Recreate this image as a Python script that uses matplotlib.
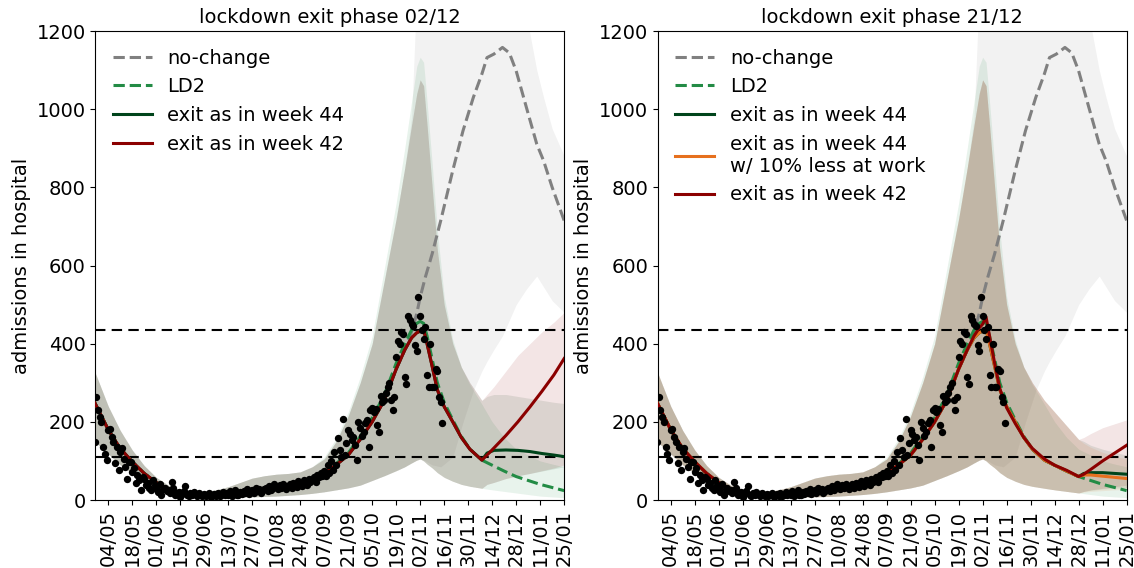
import matplotlib
matplotlib.use("Agg")
import matplotlib.pyplot as plt
import matplotlib.dates as mdates
import pandas as pd

# ---------------- observed daily admissions (from 2020-04-26) ----------------
obs_start = "2020-04-26"
obs_values = [
    149, 264, 230, 213, 200,
    136, 119, 102, 179, 181, 162, 149, 94, 136, 77,
    123, 132, 106, 85, 55, 98, 98, 72, 81, 43,
    64, 51, 25, 60, 55, 38, 43, 30, 25, 51, 38,
    32, 21, 40, 13, 28, 30, 22, 25, 18, 47,
    30, 12, 18, 20, 8, 15, 22, 35, 14, 10,
    18, 12, 20, 15, 9, 17, 14, 11, 16, 10,
    13, 18, 8, 12, 15, 11, 19, 9, 14, 20,
    12, 17, 13, 22, 10, 18, 25, 14, 12, 20,
    15, 24, 18, 28, 16, 22, 25, 19, 30, 22, 28,
    18, 24, 28, 32, 22, 35, 26, 30, 40, 33,
    27, 38, 30, 42, 35, 28, 36, 40, 30, 44,
    38, 33, 48, 42, 36, 50, 45, 38, 55, 47, 52,
    60, 45, 65, 58, 70, 62,
    75, 62, 90, 70, 100, 77, 123, 90, 158, 128,
    110, 208, 115, 145, 179, 170, 153, 160, 140, 102,
    200, 185, 165, 175,
    196, 205, 136, 230, 235, 226, 232, 191, 174, 265,
    250, 255, 275, 289, 300, 255, 230, 264, 366, 408,
    400, 430, 425, 315, 298, 472, 460, 451, 445, 396, 380,
    519, 472, 435, 413, 443, 319, 289, 400, 290, 288, 336, 330, 264, 250, 196,
]

# ---------------- common model fit (lockdown trajectory) ----------------
common_dates = [
    "2020-04-26", "2020-05-04", "2020-05-11", "2020-05-18", "2020-05-25",
    "2020-06-01", "2020-06-08", "2020-06-15", "2020-06-22", "2020-06-29",
    "2020-07-06", "2020-07-13", "2020-07-20", "2020-07-27", "2020-08-03",
    "2020-08-10", "2020-08-17", "2020-08-24", "2020-08-31", "2020-09-07",
    "2020-09-14", "2020-09-21", "2020-09-28", "2020-10-05", "2020-10-12",
    "2020-10-19", "2020-10-24", "2020-10-28", "2020-10-31", "2020-11-02",
    "2020-11-04", "2020-11-06", "2020-11-09", "2020-11-12", "2020-11-16",
    "2020-11-21", "2020-11-26", "2020-12-01", "2020-12-08", "2020-12-14",
    "2020-12-21", "2020-12-28",
]
fit_a = [250, 180, 132, 98, 68, 45, 28, 18, 14, 13, 14, 15, 18, 21, 25, 30, 34, 38,
         50, 68, 90, 115, 155, 200, 255, 335, 384, 415, 428, 432, 436, 400, 342, 282,
         239, 200, 160, 130, 102, 89, 74, 60]
fit_b = [250, 180, 132, 98, 68, 45, 28, 18, 14, 13, 14, 15, 18, 21, 25, 30, 34, 38,
         50, 68, 90, 115, 155, 200, 255, 335, 384, 420, 440, 450, 468, 420, 350, 285,
         236, 196, 160, 132, 105, 89, 76, 60]
ld2_mid = [250, 180, 132, 98, 68, 45, 28, 18, 14, 13, 14, 15, 18, 21, 25, 30, 34, 38,
           50, 70, 93, 120, 162, 210, 268, 350, 400, 435, 452, 457, 452, 420, 360, 300,
           250, 205, 163, 130, 102, 89, 74, 60]
common_hi = [330, 240, 178, 128, 88, 58, 38, 26, 22, 22, 26, 34, 45, 56, 62, 66, 68, 72,
             85, 105, 150, 215, 300, 400, 560, 720, 850, 960, 1040, 1075, 1060, 960, 800,
             640, 500, 400, 340, 300, 255, 225, 190, 155]
common_lo = [150, 118, 90, 68, 48, 30, 18, 11, 8, 7, 7, 7, 8, 8, 9, 10, 12, 14,
             17, 21, 26, 31, 38, 50, 62, 75, 85, 95, 102, 105, 100, 92, 82, 70, 58,
             48, 40, 35, 30, 26, 22, 18]
ld2_hi = [330, 240, 178, 128, 88, 58, 38, 26, 22, 22, 26, 34, 45, 56, 62, 66, 68, 72,
          85, 110, 158, 225, 315, 420, 590, 760, 900, 1020, 1110, 1133, 1120, 1020, 860,
          690, 520, 410, 340, 295, 245, 200, 160, 130]

ld2_tail_dates = ["2021-01-04", "2021-01-11", "2021-01-18", "2021-01-25"]
ld2_tail = [50, 40, 32, 24]
ld2_tail_hi = [115, 100, 92, 85]
ld2_tail_lo = [14, 10, 8, 6]

# ---------------- no-change scenario ----------------
nc_dates = ["2020-10-24", "2020-10-28", "2020-10-31", "2020-11-02", "2020-11-05",
            "2020-11-09", "2020-11-14", "2020-11-21", "2020-11-27", "2020-12-03",
            "2020-12-08", "2020-12-11", "2020-12-15", "2020-12-20", "2020-12-24",
            "2020-12-28", "2021-01-03", "2021-01-09", "2021-01-13", "2021-01-18",
            "2021-01-25"]
nc_mid = [384, 430, 477, 519, 570, 630, 715, 843, 945, 1030, 1090, 1132, 1141, 1158,
          1144, 1098, 1004, 911, 868, 800, 715]
nc_hi = [850, 980, 1300, 1400, 1400, 1400, 1400, 1400, 1400, 1400, 1400, 1400, 1400,
         1400, 1400, 1400, 1240, 1100, 1030, 950, 880]
nc_lo = [85, 95, 102, 105, 100, 90, 85, 110, 200, 280, 330, 355, 385, 420, 460, 500,
         540, 573, 545, 510, 480]

# ---------------- exit 02/12 (left panel) ----------------
exitA_dates = ["2020-12-08", "2020-12-11", "2020-12-15", "2020-12-22", "2020-12-29",
               "2021-01-05", "2021-01-12", "2021-01-19", "2021-01-25"]
w44_a = [102, 120, 127, 128, 127, 124, 119, 115, 111]
w44_a_hi = [255, 265, 270, 270, 265, 260, 255, 250, 247]
w44_a_lo = [30, 40, 45, 55, 62, 68, 74, 80, 85]
w42_a = [102, 115, 133, 165, 200, 238, 278, 320, 362]
w42_a_hi = [255, 270, 290, 330, 370, 400, 430, 455, 480]
w42_a_lo = [30, 40, 45, 55, 62, 68, 75, 82, 90]

# ---------------- exit 21/12 (right panel) ----------------
exitB_dates = ["2020-12-28", "2020-12-31", "2021-01-04", "2021-01-11", "2021-01-18",
               "2021-01-25"]
w44_b = [60, 68, 70, 70, 68, 66]
w44_b_hi = [155, 150, 140, 130, 122, 115]
w44_b_lo = [18, 22, 25, 28, 30, 32]
w44w_b = [60, 64, 64, 61, 58, 55]
w44w_b_hi = [155, 145, 135, 122, 112, 105]
w44w_b_lo = [18, 20, 22, 24, 26, 27]
w42_b = [60, 66, 78, 100, 120, 140]
w42_b_hi = [155, 160, 170, 185, 195, 205]
w42_b_lo = [18, 22, 26, 30, 34, 38]

thresholds = [435, 110]
titles = ["lockdown exit phase 02/12", "lockdown exit phase 21/12"]

C_NC = "#808080"
C_LD2 = "#238b45"
C_W44 = "#00441b"
C_W44W = "#e6701e"
C_W42 = "#8b0000"


def join(d1, v1, cut, d2, v2):
    d1 = pd.to_datetime(d1)
    cut = pd.Timestamp(cut)
    keep = d1 < cut
    dates = list(d1[keep]) + list(pd.to_datetime(d2))
    vals = [v for v, k in zip(v1, keep) if k] + list(v2)
    return dates, vals


plt.rcParams["font.family"] = "DejaVu Sans"
plt.rcParams["font.size"] = 14

fig = plt.figure(figsize=(11.34, 5.68), dpi=100)
ax_l = fig.add_axes([0.0841, 0.1197, 0.4134, 0.8257])
ax_r = fig.add_axes([0.5801, 0.1197, 0.4134, 0.8257])

obs_dates = pd.date_range(obs_start, periods=len(obs_values), freq="D")

# LD2 full series (identical in both panels)
ld2_d, ld2_v = join(common_dates, ld2_mid, "2021-01-01", ld2_tail_dates, ld2_tail)
_, ld2_h = join(common_dates, ld2_hi, "2021-01-01", ld2_tail_dates, ld2_tail_hi)
_, ld2_l = join(common_dates, common_lo, "2021-01-01", ld2_tail_dates, ld2_tail_lo)

nc_d, nc_v = join(common_dates, fit_a, nc_dates[0], nc_dates, nc_mid)
_, nc_h = join(common_dates, common_hi, nc_dates[0], nc_dates, nc_hi)
_, nc_l = join(common_dates, common_lo, nc_dates[0], nc_dates, nc_lo)

panels = [
    (ax_l, titles[0], exitA_dates, [
        (fit_a, w44_a, w44_a_hi, w44_a_lo, C_W44, "exit as in week 44"),
        (fit_a, w42_a, w42_a_hi, w42_a_lo, C_W42, "exit as in week 42"),
    ]),
    (ax_r, titles[1], exitB_dates, [
        (fit_a, w44_b, w44_b_hi, w44_b_lo, C_W44, "exit as in week 44"),
        (fit_a, w44w_b, w44w_b_hi, w44w_b_lo, C_W44W, "exit as in week 44\nw/ 10% less at work"),
        (fit_b, w42_b, w42_b_hi, w42_b_lo, C_W42, "exit as in week 42"),
    ]),
]

for ax, title, ex_dates, scen in panels:
    cut = ex_dates[0]
    # bands
    ax.fill_between(nc_d, nc_l, nc_h, color=C_NC, alpha=0.1, lw=0)
    ax.fill_between(ld2_d, ld2_l, ld2_h, color=C_LD2, alpha=0.1, lw=0)
    for fit, mid, hi, lo, col, lab in scen:
        d, h = join(common_dates, common_hi, cut, ex_dates, hi)
        _, l = join(common_dates, common_lo, cut, ex_dates, lo)
        ax.fill_between(d, l, h, color=col, alpha=0.1, lw=0)
    # threshold lines
    for t in thresholds:
        ax.axhline(t, color="black", ls=(0, (5, 3)), lw=1.5, zorder=3)
    # lines
    ax.plot(nc_d, nc_v, color=C_NC, ls="--", lw=2.2, label="no-change", zorder=4)
    ax.plot(ld2_d, ld2_v, color=C_LD2, ls="--", lw=2.2, label="LD2", zorder=4)
    for fit, mid, hi, lo, col, lab in scen:
        d, v = join(common_dates, fit, cut, ex_dates, mid)
        ax.plot(d, v, color=col, lw=2.2, label=lab, zorder=5)
    ax.scatter(obs_dates, obs_values, s=28, color="black", zorder=6, lw=0)

    ax.set_xlim(pd.Timestamp("2020-04-26 12:00"), pd.Timestamp("2021-01-25"))
    ax.set_ylim(0, 1200)
    ax.set_yticks([0, 200, 400, 600, 800, 1000, 1200])
    ticks = pd.date_range("2020-05-04", "2021-01-25", freq="14D")
    ax.set_xticks(ticks)
    ax.xaxis.set_major_formatter(mdates.DateFormatter("%d/%m"))
    ax.tick_params(axis="x", labelrotation=90, labelsize=14)
    ax.tick_params(axis="y", labelsize=14)
    ax.set_ylabel("admissions in hospital", fontsize=14)
    ax.set_title(title, fontsize=14)
    ax.legend(loc="upper left", frameon=False, fontsize=14)

fig.savefig("out.png", dpi=100)
